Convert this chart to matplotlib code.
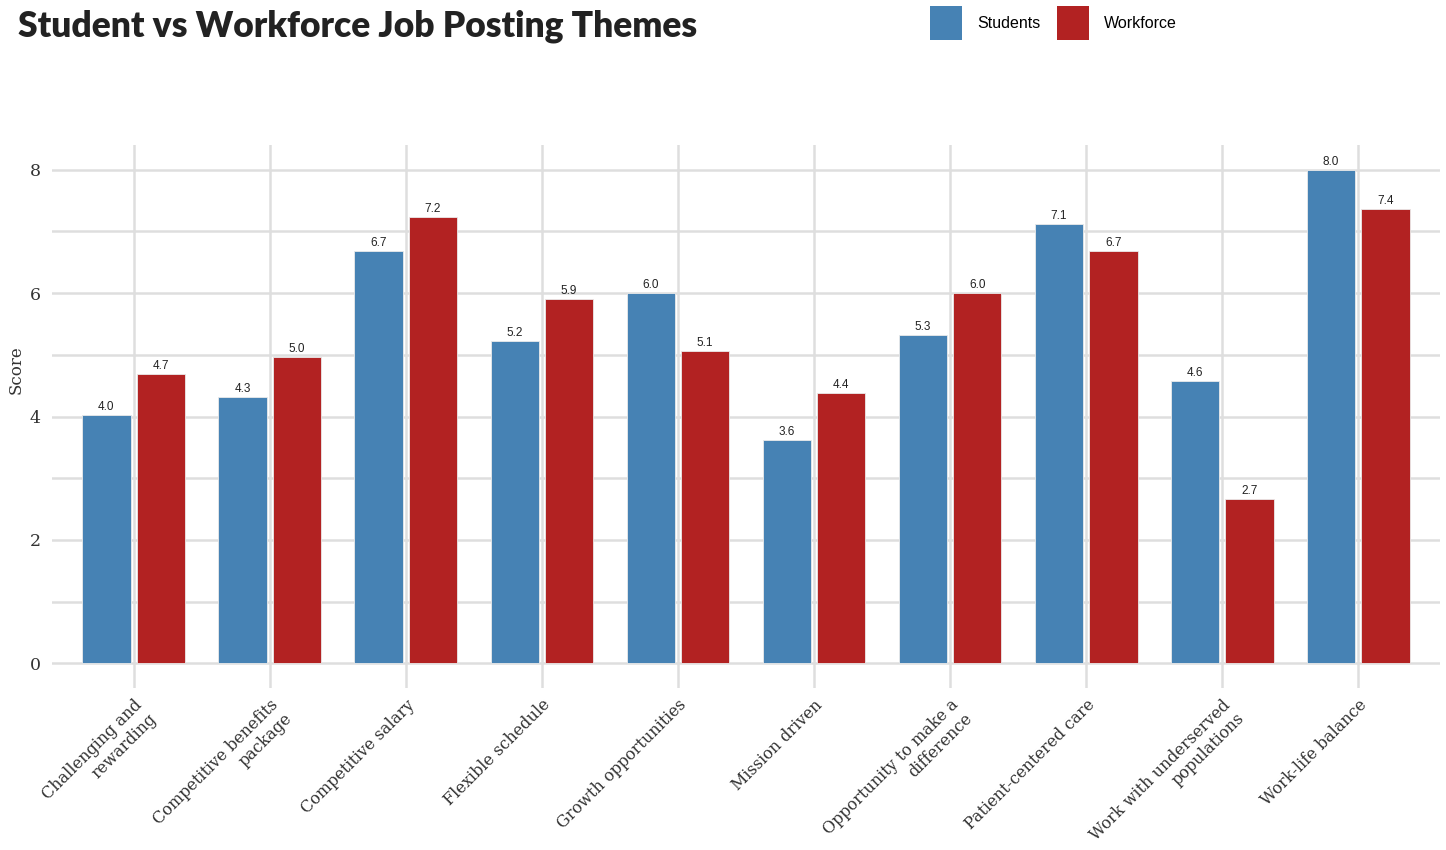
import matplotlib
matplotlib.use("Agg")
import matplotlib.pyplot as plt
import numpy as np
from matplotlib.patches import Patch

categories = [
    "Challenging and\nrewarding",
    "Competitive benefits\npackage",
    "Competitive salary",
    "Flexible schedule",
    "Growth opportunities",
    "Mission driven",
    "Opportunity to make a\ndifference",
    "Patient-centered care",
    "Work with underserved\npopulations",
    "Work-life balance",
]
students = [4.02, 4.32, 6.68, 5.22, 6.00, 3.62, 5.32, 7.12, 4.57, 8.00]
workforce = [4.69, 4.96, 7.23, 5.90, 5.06, 4.38, 6.00, 6.68, 2.66, 7.36]
series_names = ["Students", "Workforce"]
colors = ["#4682B4", "#B22222"]
yticks = [0, 2, 4, 6, 8]

fig = plt.figure(figsize=(14.46, 8.5), dpi=100)
ax = fig.add_axes([52 / 1446, 1 - 688 / 850, (1440 - 52) / 1446, (688 - 145) / 850])

x = np.arange(len(categories))
offset = 0.2
width = 0.355
grid_c = "#DEDEDE"

for vals, off, col in [(students, -offset, colors[0]), (workforce, offset, colors[1])]:
    bars = ax.bar(x + off, vals, width=width, color=col, edgecolor="#EAEAEA",
                  linewidth=0.6, zorder=3)
    for b, v in zip(bars, vals):
        ax.text(b.get_x() + b.get_width() / 2, v + 0.03, f"{v:.1f}",
                ha="center", va="bottom", fontsize=8.5, family="Liberation Sans",
                color="#222222", zorder=4)

ax.set_xlim(-0.6, len(categories) - 0.4)
ax.set_ylim(-0.4, 8.4)
ax.set_yticks(yticks)
ax.set_yticks([1, 3, 5, 7], minor=True)
ax.set_xticks(x)
ax.set_xticklabels(categories, rotation=45, ha="right", va="top",
                   rotation_mode="anchor", multialignment="right",
                   family="DejaVu Serif", fontsize=11.5, color="#333333")
ax.set_yticklabels([str(t) for t in yticks], family="DejaVu Serif", fontsize=12.5,
                   color="#333333")
ax.tick_params(axis="both", which="both", length=0)
ax.tick_params(axis="y", pad=8)
ax.tick_params(axis="x", pad=6)
ax.grid(True, which="both", axis="both", color=grid_c, linewidth=1.8, zorder=0)
ax.grid(False, which="minor", axis="x")
for s in ax.spines.values():
    s.set_visible(False)
ax.set_axisbelow(True)

ax.set_ylabel("Score", family="DejaVu Serif", fontsize=12, color="#333333")
ax.yaxis.set_label_coords(-0.02, 0.586)

fig.text(18 / 1446, 1 - 26 / 850, "Student vs Workforce Job Posting Themes",
         ha="left", va="center", fontsize=25.5, fontweight="heavy", family="Lato",
         color="#222222")

handles = [Patch(facecolor=c, edgecolor="none") for c in colors]
fig.legend(handles, series_names, loc="upper left",
           bbox_to_anchor=(916 / 1446, 1 + 8 / 850), ncol=2, frameon=False,
           prop={"family": "Liberation Sans", "size": 11.5},
           handlelength=2.0, handleheight=2.86, columnspacing=1.0, handletextpad=0.95)

fig.savefig("out.png", dpi=100, facecolor="white")
